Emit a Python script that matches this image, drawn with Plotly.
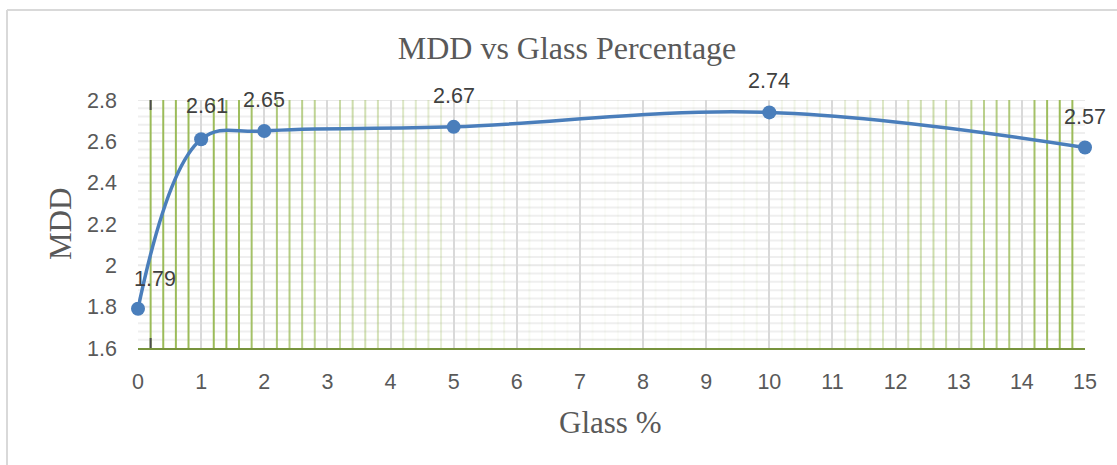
import plotly.graph_objects as go

# ---- data ----
glass_pct = [0, 1, 2, 5, 10, 15]
mdd = [1.79, 2.61, 2.65, 2.67, 2.74, 2.57]
labels = ["1.79", "2.61", "2.65", "2.67", "2.74", "2.57"]
x_ticks = list(range(0, 16))
y_ticks = [1.6, 1.8, 2.0, 2.2, 2.4, 2.6, 2.8]
y_tick_text = ["1.6", "1.8", "2", "2.2", "2.4", "2.6", "2.8"]

# ---- layout geometry ----
W, H = 1117, 465
L, R, T, B = 138, 32, 100, 117
pw, ph = W - L - R, H - T - B
Y0, Y1 = 1.6, 2.8

fig = go.Figure()
fig.add_trace(go.Scatter(
    x=glass_pct, y=mdd, mode="lines+markers",
    line=dict(color="#4a7ebb", width=3.5, shape="spline", smoothing=1.1),
    marker=dict(color="#4a7ebb", size=14),
    hoverinfo="x+y", showlegend=False, cliponaxis=False,
))

# data labels
label_shift = {0: (17, 30), 1: (6, 33)}
annotations = []
for i, (xv, yv, t) in enumerate(zip(glass_pct, mdd, labels)):
    xs, ys = label_shift.get(i, (0, 31))
    annotations.append(dict(x=xv, y=yv, xref="x", yref="y", text=t, showarrow=False,
                            xshift=xs, yshift=ys, xanchor="center", yanchor="middle",
                            font=dict(family="Liberation Sans", size=21.5, color="#404040")))

def px_to_paper_x(px):
    return (px - L) / pw

def px_to_paper_y(py):
    return (H - B - py) / ph

annotations.append(dict(xref="paper", yref="paper", x=px_to_paper_x(60), y=0.5, text="MDD",
                        textangle=-90, showarrow=False, xanchor="center", yanchor="middle",
                        font=dict(family="Liberation Serif", size=31, color="#595959")))
annotations.append(dict(xref="paper", yref="paper", x=px_to_paper_x(610), y=px_to_paper_y(422),
                        text="Glass %", showarrow=False, xanchor="center", yanchor="middle",
                        font=dict(family="Liberation Serif", size=31, color="#595959")))

shapes = []
# horizontal gridlines (minor every 0.04), drawn first, underneath
n_minor = int(round((Y1 - Y0) / 0.04))
for j in range(1, n_minor + 1):
    yv = Y0 + j * 0.04
    major = (j % 5 == 0)
    shapes.append(dict(type="line", xref="paper", yref="y", x0=0, x1=1, y0=yv, y1=yv,
                       line=dict(color="#e9e9e9" if major else "#efefef", width=2), layer="below"))
# minor vertical gridlines with a green gradient (strong at edges, fading mid)
for k in range(15):
    for m in range(1, 5):
        xv = k + m / 5
        d = abs(xv - 8.0) / 6.5
        a = max(0.04, min(1.0, d ** 2.0))
        shapes.append(dict(type="line", xref="x", yref="paper", x0=xv, x1=xv, y0=0, y1=1,
                           line=dict(color=f"rgba(155,187,89,{a:.3f})", width=2), layer="below"))
# small dark tick marks on first minor line
shapes.append(dict(type="line", xref="x", yref="paper", x0=0.2, x1=0.2, y0=1, y1=1 - 10 / ph,
                   line=dict(color="#4d4d4d", width=2), layer="below"))
shapes.append(dict(type="line", xref="x", yref="paper", x0=0.2, x1=0.2, y0=0, y1=10 / ph,
                   line=dict(color="#4d4d4d", width=2), layer="below"))
# chart border (left & top visible)
shapes.append(dict(type="line", xref="paper", yref="paper",
                   x0=px_to_paper_x(7), x1=px_to_paper_x(7),
                   y0=px_to_paper_y(10), y1=px_to_paper_y(H + 5),
                   line=dict(color="#d9d9d9", width=2)))
shapes.append(dict(type="line", xref="paper", yref="paper",
                   x0=px_to_paper_x(7), x1=px_to_paper_x(W + 5),
                   y0=px_to_paper_y(10), y1=px_to_paper_y(10),
                   line=dict(color="#d9d9d9", width=2)))

fig.update_layout(
    width=W, height=H,
    margin=dict(l=L, r=R, t=T, b=B, autoexpand=False),
    paper_bgcolor="white", plot_bgcolor="white",
    title=dict(text="MDD vs Glass Percentage", xref="container", x=567 / W,
               y=1 - 48 / H, yanchor="middle", xanchor="center",
               font=dict(family="Liberation Serif", size=32, color="#595959")),
    xaxis=dict(range=[0, 15], tickmode="array", tickvals=x_ticks,
               ticktext=[str(v) for v in x_ticks],
               showgrid=True, gridcolor="#d9d9d9", gridwidth=2,
               zeroline=False, showline=True, linecolor="#77933c", linewidth=2,
               ticks="", ticklabelstandoff=13,
               tickfont=dict(family="Liberation Sans", size=21.5, color="#595959")),
    yaxis=dict(range=[Y0, Y1], tickmode="array", tickvals=y_ticks, ticktext=y_tick_text,
               showgrid=False, zeroline=False, showline=False, ticks="", ticklabelstandoff=20,
               tickfont=dict(family="Liberation Sans", size=21.5, color="#595959")),
    annotations=annotations,
    shapes=shapes,
)

fig.write_html("out.html", config={"displayModeBar": False},
               post_script="document.body.style.margin='0';window.dispatchEvent(new Event('resize'));")
